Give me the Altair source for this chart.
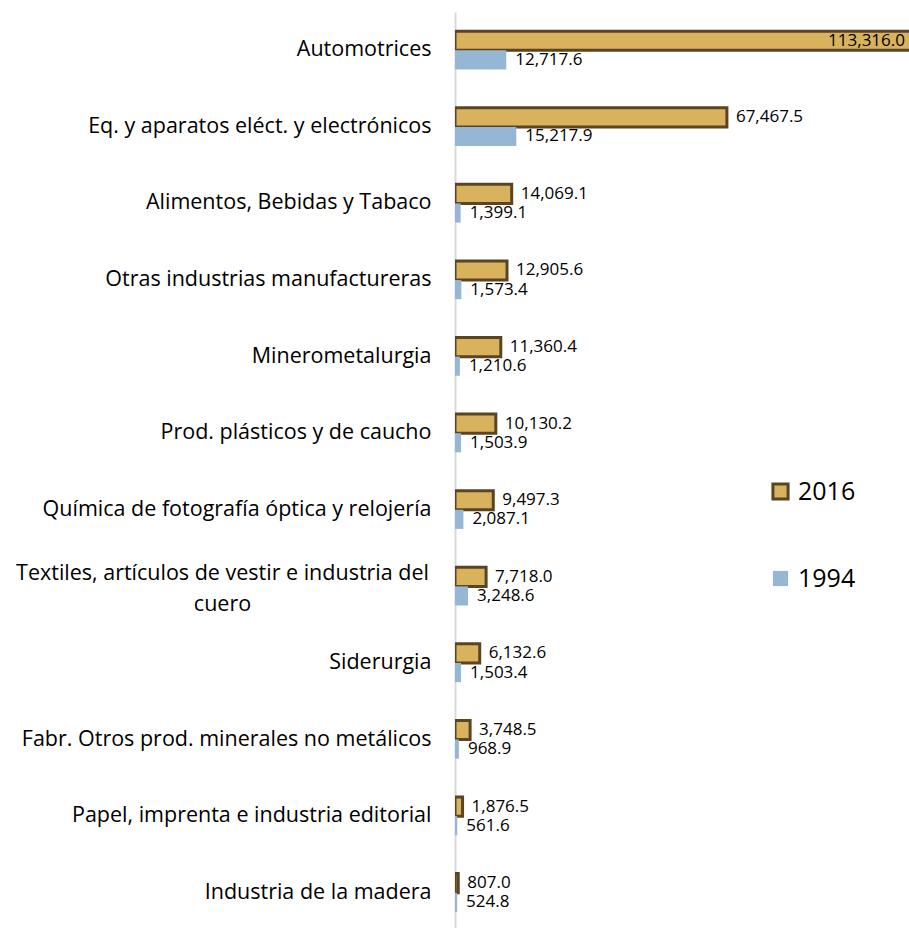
import altair as alt
import pandas as pd

categories = [
    "Automotrices",
    "Eq. y aparatos eléct. y electrónicos",
    "Alimentos, Bebidas y Tabaco",
    "Otras industrias manufactureras",
    "Minerometalurgia",
    "Prod. plásticos y de caucho",
    "Química de fotografía óptica y relojería",
    "Textiles, artículos de vestir e industria del cuero",
    "Siderurgia",
    "Fabr. Otros prod. minerales no metálicos",
    "Papel, imprenta e industria editorial",
    "Industria de la madera",
]
v2016 = [113316.0, 67467.5, 14069.1, 12905.6, 11360.4, 10130.2, 9497.3, 7718.0, 6132.6, 3748.5, 1876.5, 807.0]
v1994 = [12717.6, 15217.9, 1399.1, 1573.4, 1210.6, 1503.9, 2087.1, 3248.6, 1503.4, 968.9, 561.6, 524.8]
years = ["2016", "1994"]

rows = []
for c, a, b in zip(categories, v2016, v1994):
    rows.append({"categoria": c, "year": "2016", "valor": a})
    rows.append({"categoria": c, "year": "1994", "valor": b})
df = pd.DataFrame(rows)

XMAX = 112650
GOLD = "#d9b25e"
BROWN = "#5a4423"
BLUE = "#95b7d5"
FONT = "Open Sans"

WRAP = "Textiles, artículos de vestir e industria del cuero"
is_wrap = "datum.value == '" + WRAP + "'"
label_expr = (
    is_wrap + " ? ['Textiles, artículos de vestir e industria del', 'cuero'] : datum.value"
)

y_enc = alt.Y(
    "categoria:N",
    sort=categories,
    scale=alt.Scale(paddingInner=0.5, paddingOuter=0.25),
    axis=alt.Axis(
        title=None,
        ticks=False,
        domainColor="#d9d9d9",
        domainWidth=2,
        labelFont=FONT,
        labelFontSize=21.5,
        labelColor="black",
        labelPadding={"condition": {"test": is_wrap, "value": 233}, "value": 24},
        labelAlign={"condition": {"test": is_wrap, "value": "center"}, "value": "right"},
        labelOffset={"condition": {"test": is_wrap, "value": -12}, "value": 0},
        labelLimit=700,
        labelLineHeight=31,
        minExtent=450,
        maxExtent=450,
        labelExpr=label_expr,
    ),
)
yoff = alt.YOffset("year:N", sort=years)
x_enc = alt.X("valor:Q", scale=alt.Scale(domain=[0, XMAX], nice=False), axis=None)

base = alt.Chart(df)

bars = base.mark_bar(clip=True).encode(
    x=x_enc,
    y=y_enc,
    yOffset=yoff,
    color=alt.Color(
        "year:N",
        sort=years,
        scale=alt.Scale(domain=years, range=[GOLD, BLUE]),
        legend=alt.Legend(
            title=None,
            orient="none",
            legendX=313,
            legendY=467,
            labelFont=FONT,
            labelFontSize=25,
            labelColor="black",
            symbolType="square",
            symbolSize=230,
            rowPadding=60,
            labelOffset=5,
        ),
    ),
    stroke=alt.Stroke("year:N", sort=years, scale=alt.Scale(domain=years, range=[BROWN, BLUE])),
    strokeWidth=alt.StrokeWidth("year:N", sort=years, scale=alt.Scale(domain=years, range=[3, 0])),
)

text_out = base.transform_filter(alt.datum.valor <= XMAX).mark_text(
    align="left", baseline="middle", dx=9, font=FONT, fontSize=17, color="black"
).encode(
    x=x_enc,
    y=y_enc,
    yOffset=yoff,
    text=alt.Text("valor:Q", format=",.1f"),
)

text_in = base.transform_filter(alt.datum.valor > XMAX).transform_calculate(
    xpos=str(XMAX)
).mark_text(
    align="right", baseline="middle", dx=-4, font=FONT, fontSize=17, color="black"
).encode(
    x=alt.X("xpos:Q", scale=alt.Scale(domain=[0, XMAX], nice=False), axis=None),
    y=y_enc,
    yOffset=yoff,
    text=alt.Text("valor:Q", format=",.1f"),
)

chart = alt.layer(bars, text_out, text_in).properties(
    width=454,
    height=919,
    padding={"left": 5, "top": 12, "right": 0, "bottom": 0},
).configure_view(stroke=None)

chart.save("out.html", embed_options={"renderer": "svg", "actions": False})
